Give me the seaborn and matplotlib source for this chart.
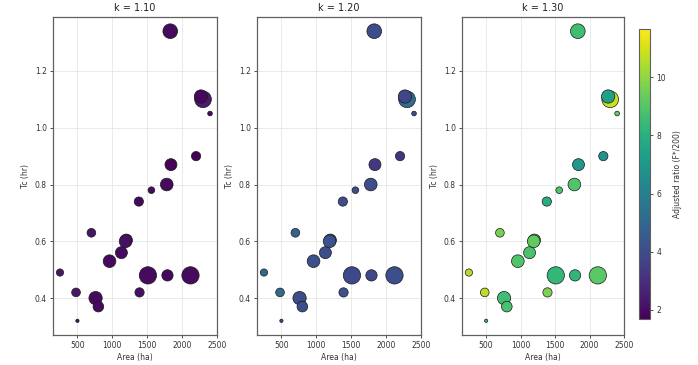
import numpy as np
import pandas as pd
import matplotlib
matplotlib.use("Agg")
import matplotlib.pyplot as plt
import seaborn as sns

# ---- data ----
area = [250, 480, 500, 700, 760, 800, 960, 1130, 1200, 1190, 1380, 1390, 1510,
        1560, 1780, 1790, 1830, 1840, 2120, 2200, 2300, 2270, 2400]
tc = [0.49, 0.42, 0.32, 0.63, 0.40, 0.37, 0.53, 0.56, 0.604, 0.60, 0.74, 0.42, 0.48,
      0.78, 0.80, 0.48, 1.34, 0.87, 0.48, 0.90, 1.10, 1.11, 1.05]
peak = [53, 76, 11, 76, 177, 114, 161, 144, 150, 161, 86, 86, 300,
        45, 161, 128, 216, 144, 300, 86, 279, 177, 22]
ratio_110 = [2.3, 2.3, 2.0, 2.2, 2.0, 2.0, 2.0, 2.0, 2.0, 2.1, 1.9, 2.1, 2.0,
             2.0, 2.0, 1.9, 2.0, 1.8, 2.0, 1.7, 2.4, 1.9, 2.0]
ratio_120 = [5.0, 5.0, 3.8, 4.8, 4.0, 4.1, 4.1, 4.1, 4.0, 4.2, 4.0, 4.2, 3.9,
             4.1, 4.1, 3.9, 4.0, 3.3, 4.1, 3.2, 5.2, 3.8, 4.0]
ratio_130 = [10.5, 10.6, 8.3, 9.6, 8.6, 8.8, 8.9, 8.8, 8.5, 9.2, 7.9, 9.7, 8.3,
             8.9, 8.9, 8.2, 8.6, 7.0, 9.1, 6.8, 10.8, 7.4, 9.3]
ratio_range = (1.69, 11.65)
k_labels = ["k = 1.10", "k = 1.20", "k = 1.30"]
x_ticks = [500, 1000, 1500, 2000, 2500]
y_ticks = [0.4, 0.6, 0.8, 1.0, 1.2]

ratios = [ratio_110, ratio_120, ratio_130]

sns.set_style("white")
plt.rcParams['font.family'] = ['DejaVu Sans']

W, H = 698, 365
fig = plt.figure(figsize=(W / 100, H / 100), dpi=100)

lefts = [53, 257, 462]
widths = [164, 164, 162]
norm = plt.Normalize(*ratio_range)

for i, (lab, r) in enumerate(zip(k_labels, ratios)):
    ax = fig.add_axes([lefts[i] / W, 30 / H, widths[i] / W, 318 / H])
    df = pd.DataFrame({"Area": area, "Tc": tc, "Q": peak, "ratio": r})
    sns.scatterplot(data=df, x="Area", y="Tc", hue="ratio", size="Q",
                    palette="viridis", hue_norm=norm,
                    sizes=(5.6, 155), size_norm=(11, 300),
                    edgecolor="#1a1a1a", linewidth=0.5, alpha=1.0,
                    legend=False, ax=ax, zorder=3)
    ax.set_xlim(150, 2500)
    ax.set_ylim(0.27, 1.39)
    ax.set_xticks(x_ticks)
    ax.set_yticks(y_ticks)
    ax.grid(True, color="#e6e6e6", linewidth=0.6, zorder=0)
    ax.set_axisbelow(True)
    for sp in ax.spines.values():
        sp.set_color("#606060")
        sp.set_linewidth(0.9)
    ax.tick_params(axis="both", labelsize=5.5, colors="#333333", length=2.5,
                   width=0.6, pad=2, bottom=True, left=True)
    ax.set_xlabel("Area (ha)", fontsize=5.5, color="#333333", labelpad=2)
    ax.set_ylabel("Tc (hr)", fontsize=5.5, color="#333333", labelpad=3)
    ax.set_title(lab, fontsize=7, color="#222222", pad=4)

cax = fig.add_axes([639 / W, (H - 319) / H, 11 / W, 290 / H])
sm = matplotlib.cm.ScalarMappable(norm=norm, cmap="viridis")
sm.set_array([])
cb = fig.colorbar(sm, cax=cax)
cb.set_ticks([2, 4, 6, 8, 10])
cb.ax.tick_params(labelsize=5.5, colors="#333333", length=2.5, width=0.6, pad=2)
cb.outline.set_edgecolor("#606060")
cb.outline.set_linewidth(0.8)
cb.set_label("Adjusted ratio (F*/200)", fontsize=5.5, color="#333333", labelpad=5)

fig.savefig("out.png", dpi=100)
